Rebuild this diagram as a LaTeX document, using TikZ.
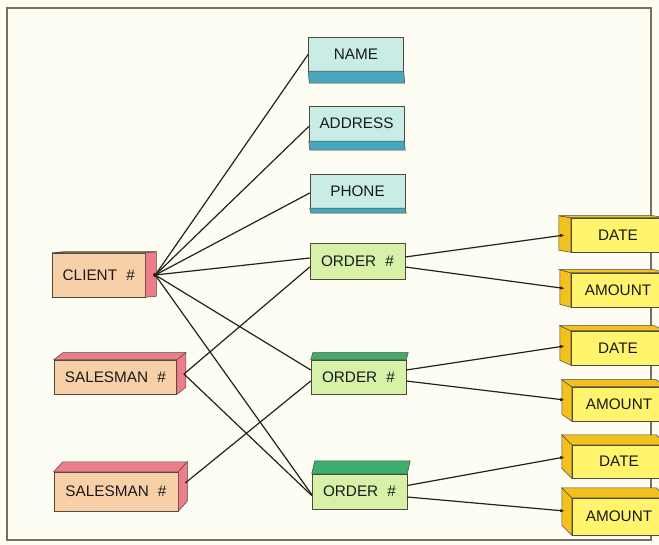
\documentclass[tikz,border=0pt]{standalone}
\usepackage{fontspec}
\setmainfont{Liberation Sans}
\usetikzlibrary{calc,arrows.meta}
\definecolor{bg}{HTML}{FDFDF4}
\definecolor{framec}{HTML}{72725F}
\definecolor{edge}{HTML}{4F4A3C}
\definecolor{linec}{HTML}{222218}
\definecolor{cyanf}{HTML}{C9EDE6}
\definecolor{cyans}{HTML}{4AA6BC}
\definecolor{greenf}{HTML}{D7F1A9}
\definecolor{greens}{HTML}{3DAE6E}
\definecolor{peachf}{HTML}{F8D0A8}
\definecolor{pinks}{HTML}{EE7D8B}
\definecolor{yellowf}{HTML}{FFF46C}
\definecolor{yellows}{HTML}{F3C11C}
\newcommand\facetop[3]{\filldraw[fill=#3,draw=edge,line width=0.5pt] (#1.north west) -- (#1.north east) -- ++(#2) -- ($(#1.north west)+(#2)$) -- cycle;}
\newcommand\faceright[3]{\filldraw[fill=#3,draw=edge,line width=0.5pt] (#1.north east) -- (#1.south east) -- ++(#2) -- ($(#1.north east)+(#2)$) -- cycle;}
\newcommand\faceleft[3]{\filldraw[fill=#3,draw=edge,line width=0.5pt] (#1.north west) -- (#1.south west) -- ++(#2) -- ($(#1.north west)+(#2)$) -- cycle;}
\newcommand\facebottom[3]{\filldraw[fill=#3,draw=edge,line width=0.5pt] (#1.south west) -- (#1.south east) -- ++(#2) -- ($(#1.south west)+(#2)$) -- cycle;}
\newcommand\hashsp{\hspace{0.6em}\#}
\begin{document}
\begin{tikzpicture}[x=1pt,y=-1pt,
  ebox/.style={draw=edge,line width=0.5pt,inner sep=0pt,text=black!90,
    font=\fontsize{15.3}{17}\selectfont},
  cyanbox/.style={ebox,fill=cyanf,minimum width=95pt},
  greenbox/.style={ebox,fill=greenf,minimum width=95pt},
  peachbox/.style={ebox,fill=peachf},
  yellowbox/.style={ebox,fill=yellowf,minimum width=94pt},
  link/.style={draw=linec,line width=1.2pt},
  tiplink/.style={link,-{Latex[length=4.5pt,width=3.5pt]}},
  framestyle/.style={draw=framec,line width=1.4pt}]
\clip (0,0) rectangle (659,545);
\fill[bg] (0,0) rectangle (659,545);
\draw[framestyle] (7,8) rectangle (651,540);

% attribute boxes
\node[cyanbox,minimum height=33.5pt] (name) at (356,54.25) {NAME};
\node[cyanbox,minimum height=35pt] (address) at (356.5,123.5) {ADDRESS};
\node[cyanbox,minimum height=34pt] (phone) at (357.5,191) {PHONE};
\facebottom{name}{1,12}{cyans}
\facebottom{address}{1,9}{cyans}
\facebottom{phone}{1,5}{cyans}

% order boxes
\node[greenbox,minimum height=36pt] (order1) at (357.5,261) {ORDER\hashsp};
\node[greenbox,minimum height=34pt] (order2) at (358.5,377) {ORDER\hashsp};
\node[greenbox,minimum height=35pt] (order3) at (359.5,491.5) {ORDER\hashsp};
\facetop{order2}{2,-7}{greens}
\facetop{order3}{3,-13}{greens}

% client and salesmen
\node[peachbox,minimum width=92.5pt,minimum height=44pt] (client) at (98.75,275) {CLIENT\hashsp};
\node[peachbox,minimum width=122.7pt,minimum height=34pt] (sm1) at (115.35,377) {SALESMAN\hashsp};
\node[peachbox,minimum width=124pt,minimum height=39pt] (sm2) at (116,491.5) {SALESMAN\hashsp};
\faceright{client}{11,-1}{pinks}
\facetop{client}{11,-1}{pinks}
\facetop{sm1}{9,-7}{pinks}
\faceright{sm1}{9,-7}{pinks}
\facetop{sm2}{9,-10}{pinks}
\faceright{sm2}{9,-10}{pinks}

% yellow boxes
\node[yellowbox,minimum height=34pt] (date1) at (618,235) {DATE};
\node[yellowbox,minimum height=34pt] (amount1) at (618,290) {AMOUNT};
\node[yellowbox,minimum height=34pt] (date2) at (618,348) {DATE};
\node[yellowbox,minimum height=34pt] (amount2) at (619,404) {AMOUNT};
\node[yellowbox,minimum height=33pt] (date3) at (619,461.5) {DATE};
\node[yellowbox,minimum height=37pt] (amount3) at (619,516.5) {AMOUNT};
\faceleft{date1}{-12,-2}{yellows}
\facetop{date1}{-12,-2}{yellows}
\faceleft{amount1}{-11,-3}{yellows}
\facetop{amount1}{-11,-3}{yellows}
\faceleft{date2}{-11,-5}{yellows}
\facetop{date2}{-11,-5}{yellows}
\faceleft{amount2}{-10,-7}{yellows}
\facetop{amount2}{-10,-7}{yellows}
\faceleft{date3}{-10,-10}{yellows}
\facetop{date3}{-10,-10}{yellows}
\faceleft{amount3}{-10,-10}{yellows}
\facetop{amount3}{-10,-10}{yellows}

% hubs
\coordinate (chub) at ($(client.east)+(10,0)$);
\coordinate (s1hub) at ($(sm1.east)+(7,-3)$);
\coordinate (s2hub) at ($(sm2.east)+(7,-8.5)$);

% connectors
\draw[link] (chub) -- (name.west);
\draw[link] (chub) -- ($(address.west)+(0,3)$);
\draw[link] (chub) -- ($(phone.west)+(0,2)$);
\draw[link] (chub) -- ($(order1.west)+(0,-3)$);
\draw[link] (chub) -- ($(order2.west)+(0,-7)$);
\draw[link] (chub) -- ($(order3.west)+(0,3)$);
\draw[link] (s1hub) -- ($(order1.west)+(0,6)$);
\draw[link] (s1hub) -- ($(order3.west)+(0,4)$);
\draw[link] (s2hub) -- ($(order2.west)+(0,4)$);
\fill[linec] (chub) circle (2.2pt);

\draw[tiplink] ($(order1.east)+(0,-4)$) -- ($(date1.west)+(-6,0)$);
\draw[tiplink] ($(order1.east)+(0,6)$) -- ($(amount1.west)+(-6,-1.5)$);
\draw[tiplink] ($(order2.east)+(0,-7)$) -- ($(date2.west)+(-6,-2)$);
\draw[tiplink] ($(order2.east)+(0,4)$) -- ($(amount2.west)+(-7,-4)$);
\draw[tiplink] ($(order3.east)+(0,-6)$) -- ($(date3.west)+(-7,-4.5)$);
\draw[tiplink] ($(order3.east)+(0,5.5)$) -- ($(amount3.west)+(-7,-5.5)$);
\end{tikzpicture}
\end{document}
